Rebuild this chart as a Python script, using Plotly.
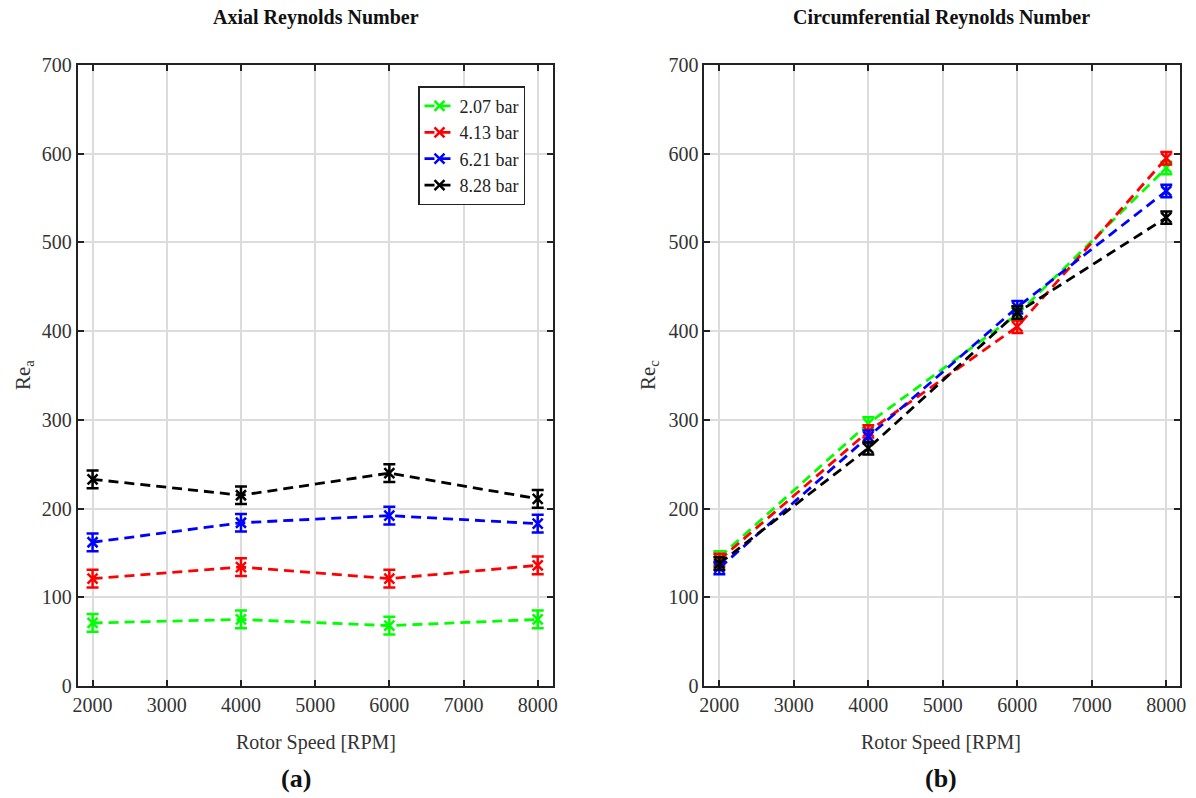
import plotly.graph_objects as go

rpm = [2000, 4000, 6000, 8000]
labels = ["2.07 bar", "4.13 bar", "6.21 bar", "8.28 bar"]
colors = ["#00ff00", "#ff0000", "#0000ff", "#000000"]

rea = [
    [71, 75, 68, 75],
    [121, 134, 121, 136],
    [162, 184, 192, 183],
    [233, 215, 240, 211],
]
rea_err = [
    [10, 10, 10, 10],
    [10, 10, 10, 10],
    [10, 10, 10, 10],
    [10, 10, 10, 10],
]
rec = [
    [145, 296, 419, 584],
    [142, 287, 405, 595],
    [133, 281, 427, 558],
    [138, 268, 421, 528],
]
rec_err = [
    [7, 7, 7, 7],
    [7, 7, 7, 7],
    [7, 7, 7, 7],
    [7, 7, 7, 7],
]

FONT = "Liberation Serif"
fig = go.Figure()

for i in range(4):
    for data, err, ax, show in [(rea, rea_err, "", True), (rec, rec_err, "2", False)]:
        fig.add_trace(go.Scatter(
            x=rpm, y=data[i], mode="lines+markers", name=labels[i],
            xaxis="x" + ax, yaxis="y" + ax, showlegend=show,
            line=dict(color=colors[i], width=2.8, dash="10px,6px"),
            marker=dict(symbol="x-thin", size=10, line=dict(color=colors[i], width=2.5)),
            error_y=dict(type="data", array=err[i], visible=True, color=colors[i],
                         thickness=2.5, width=6),
        ))

axis_common = dict(
    showline=True, linecolor="#222", linewidth=2, mirror="ticks",
    ticks="inside", ticklen=6, tickcolor="#222", tickwidth=1.5,
    showgrid=True, gridcolor="#dcdcdc", gridwidth=1.5, zeroline=False,
    tickfont=dict(family=FONT, size=20, color="#333"), automargin=False,
)
xticks = [2000, 3000, 4000, 5000, 6000, 7000, 8000]

fig.update_layout(
    width=1196, height=798,
    margin=dict(l=0, r=0, t=0, b=0, autoexpand=False),
    paper_bgcolor="white", plot_bgcolor="white",
    xaxis=dict(domain=[0.065, 0.462], range=[1800, 8200], tickvals=xticks, anchor="y", **axis_common),
    yaxis=dict(domain=[0.1404, 0.9185], range=[0, 700], dtick=100, anchor="x", **axis_common),
    xaxis2=dict(domain=[0.589, 0.987], range=[1800, 8190], tickvals=xticks, anchor="y2", **axis_common),
    yaxis2=dict(domain=[0.1404, 0.9185], range=[0, 700], dtick=100, anchor="x2", **axis_common),
    legend=dict(x=0.3495, y=0.892, xanchor="left", yanchor="top",
                bordercolor="#222", borderwidth=1.5, bgcolor="white",
                font=dict(family=FONT, size=18, color="#222"),
                tracegroupgap=0, itemwidth=30),
)

def ann(text, x, y, size, color="#111", angle=0):
    fig.add_annotation(text=text, x=x / 1196, y=1 - y / 798, xref="paper", yref="paper",
                       showarrow=False, textangle=angle, xanchor="center", yanchor="middle",
                       font=dict(family=FONT, size=size, color=color))

ann("<b>Axial Reynolds Number</b>", 316, 18, 20)
ann("<b>Circumferential Reynolds Number</b>", 941, 18, 20)
ann("Rotor Speed [RPM]", 316, 742, 20, "#333")
ann("Rotor Speed [RPM]", 941, 742, 20, "#333")
ann("Re<sub>a</sub>", 24, 375, 21, "#333", -90)
ann("Re<sub>c</sub>", 649, 375, 21, "#333", -90)
ann("<b>(a)</b>", 296, 778, 26)
ann("<b>(b)</b>", 941, 778, 26)

fig.write_html("out.html")
